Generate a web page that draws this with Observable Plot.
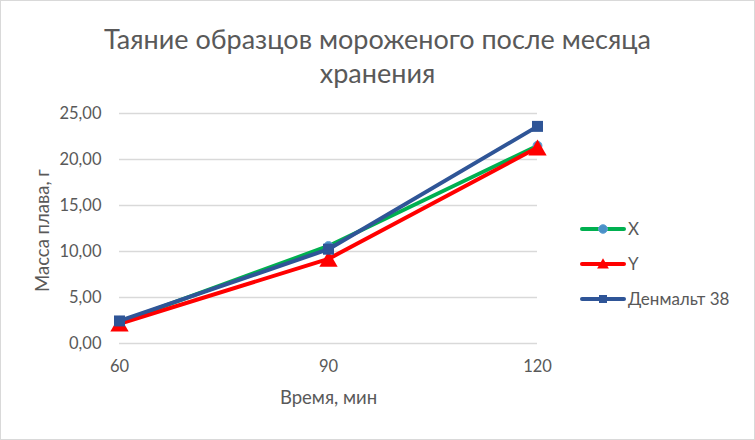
<!DOCTYPE html>
<html>
<head>
<meta charset="utf-8">
<script src="https://cdn.jsdelivr.net/npm/d3@7"></script>
<script src="https://cdn.jsdelivr.net/npm/@observablehq/plot@0.6"></script>
<style>
  html, body { margin: 0; padding: 0; background: #ffffff; }
  #wrap { position: relative; width: 755px; height: 440px; overflow: hidden; background: #fff; font-family: Lato, "Open Sans", sans-serif; color: #595959; }
  #title { height: 100px; box-sizing: border-box; padding-top: 22px; text-align: center; font-size: 27px; line-height: 34px; color: #595959; }
  #legend { position: absolute; left: 578px; top: 211px; font-size: 17px; color: #595959; }
  .row { display: flex; align-items: center; height: 35px; }
  .row svg { display: block; margin-right: 1px; }
  #border { position: absolute; left: 0; top: 0; width: 755px; height: 440px; box-sizing: border-box; border: 1.5px solid #d9d9d9; pointer-events: none; }
  #chart svg { display: block; }
</style>
</head>
<body>
<div id="wrap">
  <div id="title">Таяние образцов мороженого после месяца<br>хранения</div>
  <div id="chart"></div>
  <div id="legend"></div>
  <div id="border"></div>
</div>
<script>
// ---- data ----
const time = [60, 90, 120];
const seriesNames = ["X", "Y", "Денмальт 38"];
const valuesX = [2.3, 10.6, 21.5];
const valuesY = [2.15, 9.2, 21.3];
const valuesD = [2.45, 10.25, 23.6];
const yTicks = [0, 5, 10, 15, 20, 25];
const xTicks = [60, 90, 120];
const xLabel = "Время, мин";
const yLabel = "Масса плава, г";

// ---- styles ----
const colors = ["#00b050", "#ff0000", "#2f5597"];

const rows = (vals, s) => time.map((t, i) => ({t, v: vals[i], s}));
const dataX = rows(valuesX, seriesNames[0]);
const dataY = rows(valuesY, seriesNames[1]);
const dataD = rows(valuesD, seriesNames[2]);

const fmt = v => v.toFixed(2).replace(".", ",");

const chart = Plot.plot({
  width: 755,
  height: 340,
  marginLeft: 119,
  marginRight: 218,
  marginTop: 13,
  marginBottom: 97,
  style: {fontFamily: "Lato, 'Open Sans', sans-serif", fontSize: "16.5px", color: "#595959", background: "transparent", overflow: "visible"},
  x: {domain: [60, 120], ticks: xTicks, tickSize: 0, tickPadding: 17, label: null, tickFormat: d => String(d)},
  y: {domain: [0, 25], ticks: yTicks, tickSize: 0, tickPadding: 18, tickFormat: fmt, label: null},
  marks: [
    Plot.gridY(yTicks, {stroke: "#d9d9d9", strokeOpacity: 1, strokeWidth: 1.5}),
    Plot.line(dataX, {x: "t", y: "v", stroke: colors[0], strokeWidth: 4, strokeLinejoin: "round", strokeLinecap: "round"}),
    Plot.dot(dataX, {x: "t", y: "v", symbol: "circle", r: 4.5, fill: "#4a90c8", stroke: "#6aa6d6", strokeWidth: 1}),
    Plot.line(dataY, {x: "t", y: "v", stroke: colors[1], strokeWidth: 4, strokeLinejoin: "round", strokeLinecap: "round"}),
    Plot.dot(dataY, {x: "t", y: "v", symbol: "triangle", r: 6.8, fill: colors[1], stroke: "none", dy: 2.6}),
    Plot.line(dataD, {x: "t", y: "v", stroke: colors[2], strokeWidth: 4, strokeLinejoin: "round", strokeLinecap: "round"}),
    Plot.dot(dataD, {x: "t", y: "v", symbol: "square", r: 6.2, fill: colors[2], stroke: "none"}),
    Plot.text([xLabel], {text: d => d, frameAnchor: "bottom", dy: 55, textAnchor: "middle", lineAnchor: "middle", fontSize: 18.5, fill: "#595959"}),
    Plot.text([yLabel], {text: d => d, frameAnchor: "left", rotate: -90, dx: -76, dy: 2, textAnchor: "middle", lineAnchor: "middle", fontSize: 18.5, fill: "#595959"})
  ]
});
document.getElementById("chart").appendChild(chart);

// ---- legend ----
const legend = document.getElementById("legend");
const ns = "http://www.w3.org/2000/svg";
seriesNames.forEach((name, i) => {
  const row = document.createElement("div");
  row.className = "row";
  const svg = document.createElementNS(ns, "svg");
  svg.setAttribute("width", "49");
  svg.setAttribute("height", "20");
  const line = document.createElementNS(ns, "line");
  line.setAttribute("x1", "4"); line.setAttribute("x2", "46");
  line.setAttribute("y1", "10"); line.setAttribute("y2", "10");
  line.setAttribute("stroke", colors[i]);
  line.setAttribute("stroke-width", "4");
  line.setAttribute("stroke-linecap", "round");
  svg.appendChild(line);
  const sym = d3.symbol(i === 0 ? d3.symbolCircle : i === 1 ? d3.symbolTriangle : d3.symbolSquare, i === 0 ? 60 : i === 1 ? 60 : 64)();
  const p = document.createElementNS(ns, "path");
  p.setAttribute("d", sym);
  p.setAttribute("transform", `translate(25,${i === 1 ? 11 : 10})`);
  p.setAttribute("fill", i === 0 ? "#4a90c8" : colors[i]);
  if (i === 0) { p.setAttribute("stroke", "#6aa6d6"); p.setAttribute("stroke-width", "1"); }
  svg.appendChild(p);
  row.appendChild(svg);
  const label = document.createElement("span");
  label.textContent = name;
  row.appendChild(label);
  legend.appendChild(row);
});
</script>
</body>
</html>
